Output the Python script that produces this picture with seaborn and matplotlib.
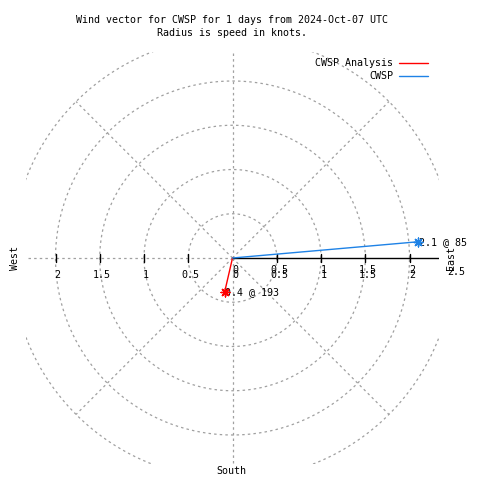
import numpy as np
import pandas as pd
import matplotlib
matplotlib.use("Agg")
import matplotlib.pyplot as plt
import seaborn as sns

# ---- data ----
series_names = ["CWSP Analysis", "CWSP"]
speeds = [0.4, 2.1]          # knots
directions = [193, 85]       # degrees (clockwise from north)
series_colors = ["#ff0000", "#1e82e6"]
ring_radii = [0.5, 1.0, 1.5, 2.0, 2.5]
tick_values = [0.5, 1.0, 1.5, 2.0]
tick_labels = ["0.5", "1", "1.5", "2"]
title_lines = ["Wind vector for CWSP for 1 days from 2024-Oct-07 UTC",
               "Radius is speed in knots."]

sns.set_style("white")
plt.rcParams['font.family'] = ['DejaVu Sans Mono', 'DejaVu Sans']
plt.rcParams['text.color'] = 'black'
FS = 7.2

fig = plt.figure(figsize=(4.8, 4.8), dpi=100)
ax = fig.add_axes([26/480, 16/480, 413/480, 412/480])
lim_x = 413/2/88.5
lim_y = 412/2/88.5
ax.set_xlim(-lim_x, lim_x)
ax.set_ylim(-lim_y, lim_y)
ax.axis('off')

grid_kw = dict(color="#a0a0a0", lw=0.9, ls=(0, (2, 2.5)), zorder=1)
th = np.linspace(0, 2*np.pi, 721)
for r in ring_radii:
    ax.plot(r*np.cos(th), r*np.sin(th), **grid_kw)
R = ring_radii[-1]
for ang in [45, 90, 135, 225, 270, 315]:
    a = np.deg2rad(ang)
    ax.plot([0, R*np.cos(a)], [0, R*np.sin(a)], **grid_kw)
ax.plot([0, -R], [0, 0], **grid_kw)

# solid axis to the east
ax.plot([0, lim_x], [0, 0], color="black", lw=1.0, zorder=2)
tk = 0.045
for v in tick_values:
    for s in (1, -1):
        ax.plot([s*v, s*v], [-tk, tk], color="black", lw=1.0, zorder=2)

# tick labels
for v, lab in zip(tick_values, tick_labels):
    ax.text(-v + 0.02, -0.13, lab, ha="center", va="top", fontsize=FS)
for v, lab in zip([0] + tick_values, ["0"] + tick_labels):
    ax.text(v + 0.03, -0.08, lab, ha="center", va="top", fontsize=FS)
    ax.text(v + 0.03, -0.13, lab, ha="center", va="top", fontsize=FS)

# data vectors
xs = [s*np.sin(np.deg2rad(d)) for s, d in zip(speeds, directions)]
ys = [s*np.cos(np.deg2rad(d)) for s, d in zip(speeds, directions)]
for name, x, y, c, s, d in zip(series_names, xs, ys, series_colors, speeds, directions):
    df = pd.DataFrame({"x": [0, x], "y": [0, y]})
    sns.lineplot(data=df, x="x", y="y", sort=False, color=c, lw=1.0, ax=ax,
                 label=name, zorder=3)
    sns.scatterplot(x=[x], y=[y], marker=(8, 2, 0), s=40, color=c,
                    linewidth=1.0, edgecolor=c, ax=ax, zorder=4, legend=False)
    ax.text(x + 0.01, y, f"{s:g} @ {d}", ha="left", va="center", fontsize=FS)

ax.set_xlabel("")
ax.set_ylabel("")
leg = ax.legend(loc="upper right", bbox_to_anchor=((428-26)/413, 1 - (58-52)/412),
                frameon=False, fontsize=FS, markerfirst=False, handlelength=2.9,
                handletextpad=0.6, labelspacing=0.3, borderaxespad=0,
                borderpad=0)
for t in leg.get_texts():
    t.set_ha("right")
    t.set_color("black")

# direction labels
fig.text(15/480, 1 - 258/480, "West", rotation=90, ha="center", va="center", fontsize=FS)
fig.text(451/480, 1 - 258/480, "East", rotation=90, ha="center", va="center", fontsize=FS)
fig.text(231/480, 1 - 471/480, "South", ha="center", va="center", fontsize=FS)
fig.text(456/480, 1 - 272/480, "2.5", ha="center", va="center", fontsize=FS)

fig.text(232/480, 1 - 20/480, title_lines[0], ha="center", va="center", fontsize=FS)
fig.text(232/480, 1 - 33/480, title_lines[1], ha="center", va="center", fontsize=FS)

fig.savefig("out.png", dpi=100)
